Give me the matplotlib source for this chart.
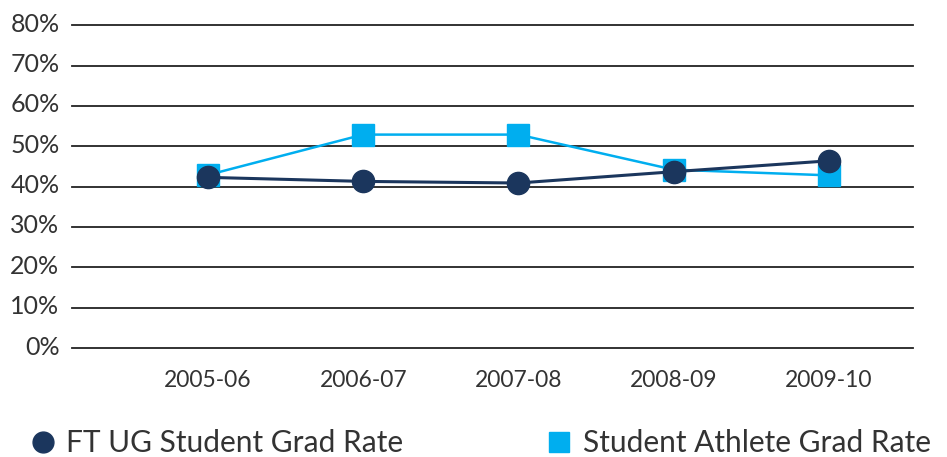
import matplotlib
matplotlib.use("Agg")
import matplotlib.pyplot as plt
import matplotlib.transforms as mtrans
from matplotlib.lines import Line2D

# ---- data ----
years = ["2005-06", "2006-07", "2007-08", "2008-09", "2009-10"]
ft_ug_rate = [42.3, 41.3, 40.9, 43.7, 46.4]
athlete_rate = [42.9, 52.9, 52.9, 44.2, 42.8]
y_ticks = [0, 10, 20, 30, 40, 50, 60, 70, 80]

navy = "#1b365d"
sky = "#00aeef"
txt = "#333333"

plt.rcParams["font.family"] = ["Lato", "DejaVu Sans"]

fig = plt.figure(figsize=(9.47, 4.57), dpi=100)
ax = fig.add_axes([0.076, 0.2385, 0.888, 0.7062])

x = list(range(len(years)))
ax.plot(x, athlete_rate, color=sky, lw=1.8, marker="s", ms=15.5,
        mec=sky, mfc=sky, zorder=3)
ax.plot(x, ft_ug_rate, color=navy, lw=2.2, marker="o", ms=16,
        mec=navy, mfc=navy, zorder=4)

ax.set_ylim(0, 80)
ax.set_xlim(-0.876, 4.541)
ax.set_yticks(y_ticks)
ax.set_yticklabels([f"{v}%" for v in y_ticks], fontsize=18, color=txt)
ax.set_xticks(x)
ax.set_xticklabels(years, fontsize=16.5, color=txt)
ax.tick_params(axis="both", length=0)
ax.tick_params(axis="y", pad=9)
ax.tick_params(axis="x", pad=16)

# y labels sit slightly above their gridlines
shift = mtrans.ScaledTranslation(0, 3 / 100, fig.dpi_scale_trans)
for lab in ax.get_yticklabels():
    lab.set_transform(lab.get_transform() + shift)

ax.grid(axis="y", color="#222222", lw=1.3)
ax.set_axisbelow(True)
for s in ax.spines.values():
    s.set_visible(False)
for gl in ax.get_ygridlines():
    gl.set_clip_on(False)

handles = [
    Line2D([], [], ls="none", marker="o", ms=15, color=navy),
    Line2D([], [], ls="none", marker="s", ms=15, color=sky),
]
fig.legend(handles, ["FT UG Student Grad Rate", "Student Athlete Grad Rate"],
           loc="center left", bbox_to_anchor=(0.004, 0.03), ncol=2, frameon=False,
           fontsize=21.5, handlelength=0.8, handletextpad=0.4, columnspacing=4.8,
           labelcolor=txt)

fig.savefig("out.png", dpi=100)
